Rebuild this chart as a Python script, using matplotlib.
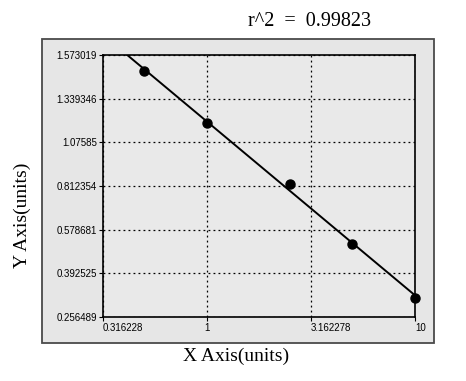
import numpy as np
import matplotlib
matplotlib.use("Agg")
from matplotlib import pyplot as plt
from matplotlib.patches import Rectangle

# standard curve values
conc = [0.5, 1, 2.5, 5, 10]
od = [1.487, 1.192, 0.824, 0.518, 0.316]

x_ticks = [0.316228, 1, 3.162278, 10]
x_labels = ['0.316228', '1', '3.162278', '10']
y_ticks = [0.256489, 0.392525, 0.578681, 0.812354, 1.07585, 1.339346, 1.573019]
y_labels = ['0.256489', '0.392525', '0.578681', '0.812354', '1.07585', '1.339346', '1.573019']
r2_text = 'r^2  =  0.99823'

yt = np.array(y_ticks)
idx = np.arange(len(yt), dtype=float)


def fwd(y):
    y = np.asarray(y, dtype=float)
    v = np.interp(y, yt, idx)
    lo = y < yt[0]
    hi = y > yt[-1]
    v = np.where(lo, (y - yt[0]) / (yt[1] - yt[0]), v)
    v = np.where(hi, idx[-1] + (y - yt[-1]) / (yt[-1] - yt[-2]), v)
    return v


def inv(v):
    v = np.asarray(v, dtype=float)
    y = np.interp(v, idx, yt)
    y = np.where(v < 0, yt[0] + v * (yt[1] - yt[0]), y)
    y = np.where(v > idx[-1], yt[-1] + (v - idx[-1]) * (yt[-1] - yt[-2]), y)
    return y


W, H = 466, 381
fig = plt.figure(figsize=(W / 100, H / 100), dpi=100)
fig.patch.set_facecolor('white')

# outer panel
fig.patches.append(Rectangle((42 / W, 1 - 343 / H), 392 / W, 304 / H,
                             transform=fig.transFigure, facecolor='#e6e6e6',
                             edgecolor='#4a4a4a', lw=1.3, zorder=-5))

ax = fig.add_axes([103 / W, 1 - 317 / H, 312 / W, 262 / H])
ax.set_zorder(2)
ax.set_facecolor('#e9e9e9')
ax.set_xscale('log')
ax.set_yscale('function', functions=(fwd, inv))
ax.set_xlim(x_ticks[0], x_ticks[-1])
ax.set_ylim(y_ticks[0], y_ticks[-1])

# fit in the transformed space
u = np.log10(conc)
v = fwd(od)
k, b = np.polyfit(u, v, 1)
ug = np.linspace(np.log10(x_ticks[0]), np.log10(x_ticks[-1]), 300)
ax.plot(10 ** ug, inv(k * ug + b), color='black', lw=1.4, zorder=3)
ax.plot(conc, od, 'o', color='black', ms=6.5, zorder=4, clip_on=False)

ax.set_xticks(x_ticks)
ax.set_xticklabels(x_labels)
ax.set_yticks(y_ticks)
ax.set_yticklabels(y_labels)
ax.minorticks_off()
ax.tick_params(axis='both', length=3, width=0.8, color='black', pad=1.5,
               labelsize=7)
for lab in ax.get_xticklabels():
    lab.set_fontfamily('Liberation Sans')
    lab.set_horizontalalignment('left')
for lab in ax.get_yticklabels():
    lab.set_fontfamily('Liberation Sans')
ax.get_xticklabels()[1].set_horizontalalignment('center')

ax.grid(True, color='black', linestyle=(0, (1.5, 2.5)), lw=0.9)
for s in ax.spines.values():
    s.set_color('black')
    s.set_linewidth(1.2)

fig.text(248 / W, 1 - 21 / H, r2_text, family='Liberation Serif', fontsize=14.5,
         ha='left', va='center')
fig.text(236 / W, 1 - 356 / H, 'X Axis(units)', family='Liberation Serif',
         fontsize=14, ha='center', va='center')
fig.text(22 / W, 1 - 215 / H, 'Y Axis(units)', family='Liberation Serif',
         fontsize=14, ha='center', va='center', rotation=90)

fig.savefig('out.png', dpi=100)
